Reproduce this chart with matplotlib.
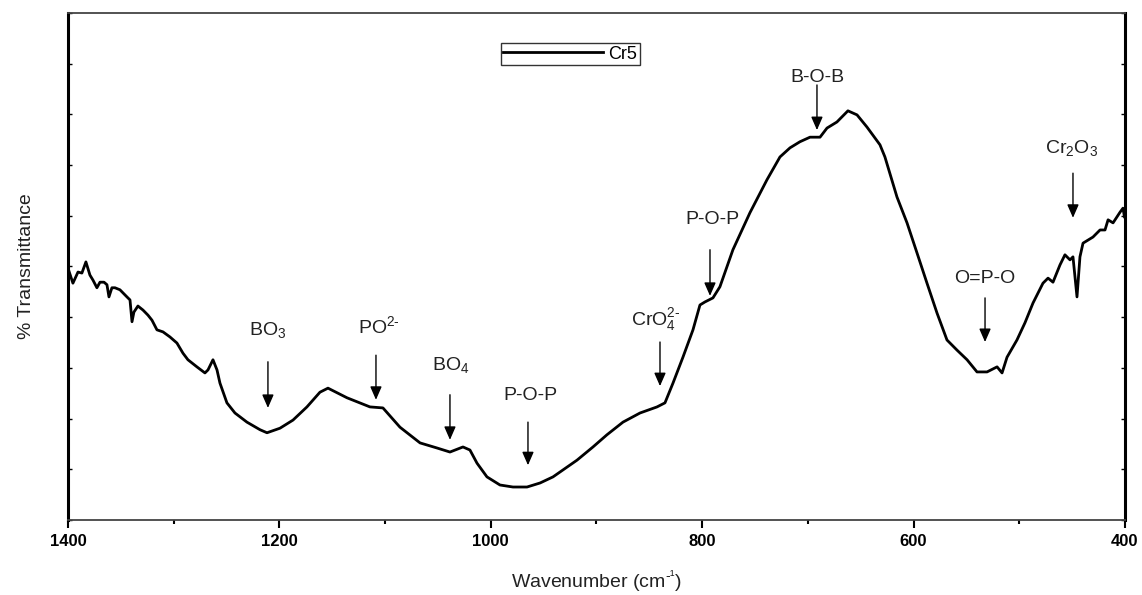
import numpy as np
import matplotlib
matplotlib.use('Agg')
import matplotlib.pyplot as plt

plt.rcParams['font.family'] = ['Liberation Sans', 'DejaVu Sans']
plt.rcParams['mathtext.default'] = 'regular'

# FTIR spectrum of sample Cr5
wavenumber = [1400, 1395.3, 1390.5, 1386.8, 1383.0, 1379.2, 1376.3, 1372.6, 1369.7, 1365.9,
              1363.1, 1361.2, 1358.4, 1355.5, 1350.8, 1344.2, 1341.3, 1339.4, 1337.6, 1333.8,
              1329.0, 1324.3, 1320.5, 1315.8, 1310.1, 1303.5, 1296.9, 1291.2, 1286.5, 1278.0,
              1270.4, 1267.5, 1262.8, 1259.0, 1256.2, 1249.6, 1242.0, 1230.7, 1218.3, 1211.7,
              1199.4, 1187.1, 1173.9, 1161.6, 1154.0, 1136.0, 1114.3, 1102.0, 1085.9, 1066.9,
              1050.9, 1038.6, 1026.3, 1019.7, 1013.0, 1003.6, 991.3, 979.0, 965.7, 953.3,
              941.1, 918.4, 903.3, 890.1, 874.9, 858.8, 842.7, 835.2, 827.6, 818.2,
              808.7, 802.1, 797.4, 789.8, 783.2, 770.9, 754.8, 738.7, 726.4, 716.9,
              707.5, 698.0, 688.5, 681.9, 672.5, 662.1, 653.5, 644.1, 631.8, 627.1,
              615.7, 606.2, 596.8, 587.3, 577.8, 568.4, 558.9, 549.4, 540.0, 530.5,
              521.0, 516.3, 511.6, 502.2, 494.6, 487.0, 477.6, 472.8, 468.1, 461.5,
              456.8, 452.0, 449.2, 445.4, 442.6, 439.7, 430.3, 423.6, 418.9, 416.0,
              411.3, 404.7, 401.9, 400.5]
transmittance = [49.7, 46.7, 48.9, 48.7, 50.9, 48.3, 47.3, 45.8, 46.9, 46.9,
                 46.4, 44.0, 45.8, 45.8, 45.4, 44.0, 43.4, 39.1, 41.0, 42.2,
                 41.4, 40.4, 39.4, 37.5, 37.1, 36.1, 34.9, 32.9, 31.6, 30.2,
                 29.0, 29.6, 31.6, 29.6, 27.0, 23.1, 21.1, 19.3, 17.8, 17.2,
                 18.1, 19.7, 22.3, 25.2, 26.0, 24.1, 22.3, 22.1, 18.3, 15.2,
                 14.2, 13.4, 14.4, 13.8, 11.2, 8.5, 6.9, 6.5, 6.5, 7.3,
                 8.5, 11.8, 14.4, 16.8, 19.3, 21.1, 22.3, 23.1, 27.0, 32.1,
                 37.5, 42.4, 43.0, 43.8, 46.0, 53.3, 60.6, 67.1, 71.6, 73.4,
                 74.6, 75.5, 75.5, 77.3, 78.5, 80.7, 79.9, 77.5, 74.0, 71.6,
                 63.7, 58.6, 52.7, 46.7, 40.8, 35.5, 33.5, 31.6, 29.2, 29.2,
                 30.2, 29.0, 32.1, 35.5, 38.9, 42.8, 46.7, 47.7, 46.9, 50.3,
                 52.3, 51.3, 51.9, 44.0, 51.9, 54.6, 55.8, 57.2, 57.2, 59.2,
                 58.6, 60.7, 61.5, 59.8]

# band assignments: label, text x, text baseline y, arrow x, arrow top, arrow tip
bands = ['BO$_3$', 'PO$^{2\u2010}$', 'BO$_4$', 'P-O-P', 'CrO$_4^{2\u2010}$',
         'P-O-P', 'B-O-B', 'O=P-O', 'Cr$_2$O$_3$']
text_x = [1210.8, 1105.8, 1037.7, 962.9, 843.7, 790.7, 691.4, 532.4, 450.1]
text_y = [36.5, 36.9, 29.6, 23.7, 38.5, 58.4, 86.4, 46.7, 72.4]
arrow_x = [1210.8, 1108.6, 1038.6, 964.8, 839.9, 792.6, 691.4, 532.4, 449.2]
arrow_top = [31.2, 32.5, 24.7, 19.3, 35.1, 53.3, 85.8, 43.8, 68.4]
arrow_tip = [22.1, 23.7, 15.8, 10.8, 26.4, 44.2, 76.9, 35.1, 59.6]

fig = plt.figure(figsize=(11.42, 5.95), dpi=100)
ax = fig.add_axes([0.0595, 0.1261, 0.9256, 0.8521])

ax.plot(wavenumber, transmittance, color='black', lw=2.0, label='Cr5')

for lab, tx, ty, axx, a0, a1 in zip(bands, text_x, text_y, arrow_x, arrow_top, arrow_tip):
    ax.text(tx, ty, lab, ha='center', va='baseline', fontsize=14, color='#222222')
    ax.annotate('', xy=(axx, a1), xytext=(axx, a0),
                arrowprops=dict(arrowstyle='-|>,head_length=0.8,head_width=0.35',
                                mutation_scale=10, lw=1.0, color='black',
                                shrinkA=0, shrinkB=0))

ax.set_xlim(1400, 400)
ax.set_ylim(0, 100)
ax.set_xticks([1400, 1200, 1000, 800, 600, 400])
ax.set_xticks([1300, 1100, 900, 700, 500], minor=True)
ax.set_yticks(np.arange(0, 101, 10))
ax.set_yticklabels([])
for lab in ax.get_xticklabels():
    lab.set_fontweight('bold')
ax.tick_params(axis='x', which='major', direction='out', length=6, width=1.5, labelsize=12, pad=4)
ax.tick_params(axis='x', which='minor', direction='out', length=3, width=1.5)
ax.tick_params(axis='y', direction='in', length=3, width=1, left=True, right=True)

ax.spines['left'].set_linewidth(2.2)
ax.spines['right'].set_linewidth(2.2)
ax.spines['top'].set_linewidth(1.3)
ax.spines['top'].set_color('#444444')
ax.spines['bottom'].set_linewidth(1.3)
ax.spines['bottom'].set_color('#444444')

ax.set_xlabel('Wavenumber (cm$^{\u2010\u00b9}$)', fontsize=14, color='#222222', labelpad=14)
ax.set_ylabel('% Transmittance', fontsize=14, color='#222222', labelpad=20)

leg = ax.legend(loc='center', bbox_to_anchor=(0.475, 0.919), fontsize=13, frameon=True,
                fancybox=False, edgecolor='black', handlelength=5.5, handletextpad=0.3,
                borderpad=0.15, borderaxespad=0)
leg.get_frame().set_linewidth(1.0)

fig.savefig('out.png', dpi=100)
